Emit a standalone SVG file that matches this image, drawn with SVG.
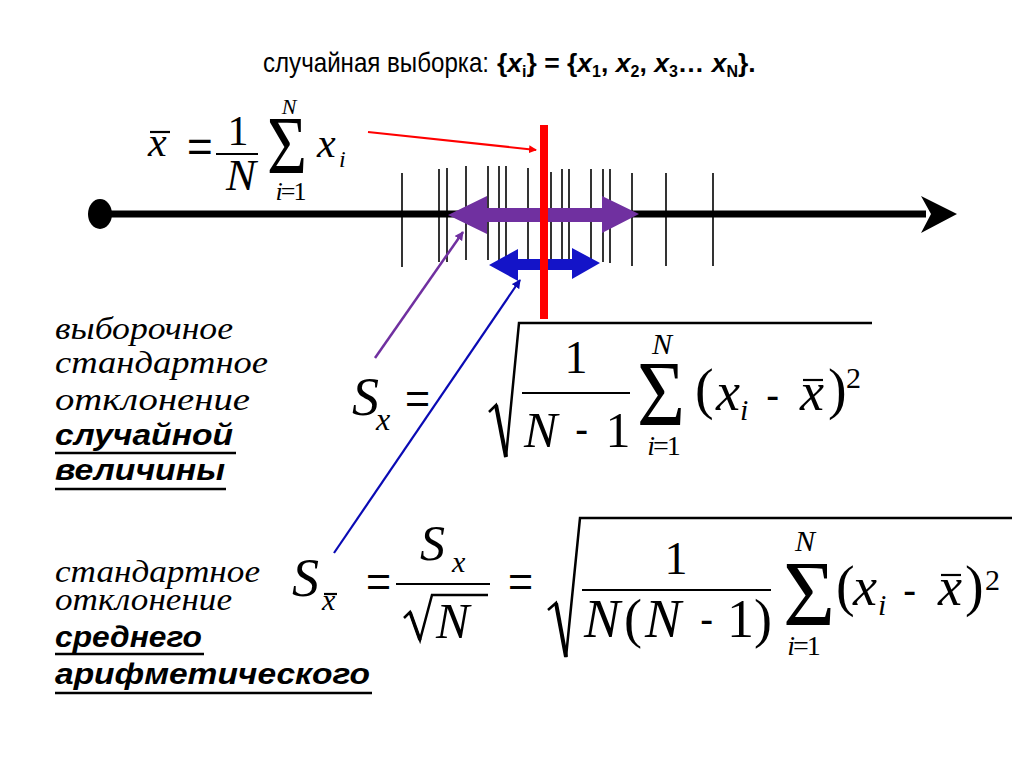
<svg xmlns="http://www.w3.org/2000/svg" width="1024" height="768" viewBox="0 0 1024 768">
<style>
.sans{font-family:"Liberation Sans",Arial,sans-serif;fill:#000}
.ser{font-family:"Liberation Serif","Times New Roman",serif;fill:#000}
.it{font-style:italic}
.lbl{font-family:"Liberation Serif","Times New Roman",serif;font-style:italic;font-size:32px;fill:#000}
.lblb{font-family:"Liberation Sans",Arial,sans-serif;font-style:italic;font-weight:bold;font-size:29px;fill:#000}
.ul{stroke:#000;stroke-width:2.5}
.tick{stroke:#000;stroke-width:1.6}
.rad{fill:none;stroke:#000;stroke-width:2.5;stroke-linejoin:miter}
.bar{stroke:#000;stroke-width:2.2}
</style>
<defs>
<marker id="ahR" markerWidth="8" markerHeight="8" refX="7" refY="4" orient="auto" markerUnits="userSpaceOnUse"><path d="M0,0 L8,4 L0,8 Z" fill="#ff0000"/></marker>
<marker id="ahP" markerWidth="9" markerHeight="9" refX="8" refY="4.5" orient="auto" markerUnits="userSpaceOnUse"><path d="M0,0 L9,4.5 L0,9 Z" fill="#7030a0"/></marker>
<marker id="ahB" markerWidth="9" markerHeight="9" refX="8" refY="4.5" orient="auto" markerUnits="userSpaceOnUse"><path d="M0,0 L9,4.5 L0,9 Z" fill="#0a0ab4"/></marker>
</defs>
<rect width="1024" height="768" fill="#fff"/>

<g id="title">
<text class="sans" x="263" y="72" font-size="28" textLength="226" lengthAdjust="spacingAndGlyphs">случайная выборка:</text>
<text class="sans" x="497" y="72" font-size="26.5" font-weight="bold">{<tspan font-style="italic">x</tspan><tspan font-size="16" dy="5">i</tspan><tspan dy="-5">} = {</tspan><tspan font-style="italic">x</tspan><tspan font-size="16" dy="5">1</tspan><tspan dy="-5">, </tspan><tspan font-style="italic">x</tspan><tspan font-size="16" dy="5">2</tspan><tspan dy="-5">, </tspan><tspan font-style="italic">x</tspan><tspan font-size="16" dy="5">3</tspan><tspan dy="-5">… </tspan><tspan font-style="italic">x</tspan><tspan font-size="16" dy="5">N</tspan><tspan dy="-5">}.</tspan></text>
</g>

<g id="axis">
<line x1="100" y1="214" x2="926" y2="214" stroke="#000" stroke-width="7"/>
<ellipse cx="100" cy="214" rx="12" ry="15" fill="#000"/>
<path d="M921,196 L957,214 L921,233 L931,214 Z" fill="#000"/>
</g>

<g id="ticks">
<line class="tick" x1="402" y1="173" x2="402" y2="267"/>
<line class="tick" x1="439" y1="169" x2="439" y2="262"/>
<line class="tick" x1="447" y1="168" x2="447" y2="262"/>
<line class="tick" x1="466" y1="166" x2="466" y2="260"/>
<line class="tick" x1="488" y1="166" x2="488" y2="260"/>
<line class="tick" x1="499" y1="166" x2="499" y2="260"/>
<line class="tick" x1="506" y1="166" x2="506" y2="260"/>
<line class="tick" x1="528" y1="168" x2="528" y2="262"/>
<line class="tick" x1="551" y1="172" x2="551" y2="267"/>
<line class="tick" x1="562" y1="169" x2="562" y2="262"/>
<line class="tick" x1="569" y1="169" x2="569" y2="262"/>
<line class="tick" x1="591" y1="169" x2="591" y2="260"/>
<line class="tick" x1="603" y1="169" x2="603" y2="262"/>
<line class="tick" x1="610" y1="169" x2="610" y2="263"/>
<line class="tick" x1="632" y1="173" x2="632" y2="266"/>
<line class="tick" x1="666" y1="173" x2="666" y2="266"/>
<line class="tick" x1="713" y1="173" x2="713" y2="266"/>
</g>

<g id="spread-arrows">
<polygon points="448,215 487,196 487,208 602,208 602,196 639,214 602,233 602,222 487,222 487,234" fill="#7030a0"/>
<polygon points="489,265 518,249 518,259 572,259 572,248 600,263 572,279 572,270 518,270 518,281" fill="#1414c8"/>
</g>

<g id="mean-line">
<rect x="540" y="125" width="8" height="194" fill="#ff0000"/>
</g>

<g id="connectors">
<line x1="368" y1="132" x2="536" y2="150" stroke="#ff0000" stroke-width="2.2" marker-end="url(#ahR)"/>
<line x1="375" y1="358" x2="463" y2="232" stroke="#7030a0" stroke-width="2.5" marker-end="url(#ahP)"/>
<line x1="334" y1="553" x2="520" y2="280" stroke="#0a0ab4" stroke-width="2.2" marker-end="url(#ahB)"/>
</g>

<g id="formula-mean">
<text class="ser it" x="148" y="156" font-size="42">x</text>
<line class="bar" x1="150" y1="132" x2="170" y2="132"/>
<text class="sans" x="187" y="162" font-size="44">=</text>
<text class="ser" x="238" y="145" font-size="42" text-anchor="middle">1</text>
<line class="bar" x1="216" y1="154" x2="258" y2="154"/>
<text class="ser it" x="241" y="190" font-size="45" text-anchor="middle">N</text>
<text class="ser" x="267" y="173" font-size="83" textLength="40" lengthAdjust="spacingAndGlyphs">Σ</text>
<text class="ser it" x="289" y="114" font-size="22" text-anchor="middle">N</text>
<text class="ser" x="290" y="200" font-size="26" text-anchor="middle" letter-spacing="-2"><tspan font-style="italic">i</tspan>=1</text>
<text class="ser it" x="317" y="157" font-size="42">x</text>
<text class="ser it" x="339" y="167" font-size="24">i</text>
</g>

<g id="formula-sx">
<text class="ser it" x="352" y="415" font-size="54">S</text>
<text class="ser it" x="376" y="430" font-size="32">x</text>
<text class="sans" x="405" y="413" font-size="43">=</text>
<path class="rad" d="M489,412 L496,405 L506,457 L519,323 L872,323"/>
<line x1="496" y1="405" x2="506" y2="457" stroke="#000" stroke-width="4"/>
<text class="ser" x="576" y="373" font-size="46" text-anchor="middle">1</text>
<line class="bar" x1="522" y1="393" x2="630" y2="393"/>
<text class="ser it" x="524" y="447" font-size="50">N</text>
<text class="sans" x="575" y="443" font-size="40">-</text>
<text class="ser" x="618" y="447" font-size="50" text-anchor="middle">1</text>
<text class="ser" x="637" y="425" font-size="94" textLength="48" lengthAdjust="spacingAndGlyphs">Σ</text>
<text class="ser it" x="662" y="354" font-size="30" text-anchor="middle">N</text>
<text class="ser" x="663" y="455" font-size="28" text-anchor="middle" letter-spacing="-2"><tspan font-style="italic">i</tspan>=1</text>
<text class="ser" x="695" y="408" font-size="56">(</text>
<text class="ser it" x="716" y="410" font-size="54">x</text>
<text class="ser it" x="740" y="420" font-size="30">i</text>
<text class="sans" x="766" y="409" font-size="40">-</text>
<text class="ser it" x="800" y="410" font-size="54">x</text>
<line class="bar" x1="803" y1="380" x2="823" y2="380"/>
<text class="ser" x="828" y="408" font-size="56">)</text>
<text class="ser" x="846" y="388" font-size="30">2</text>
</g>

<g id="formula-sxbar">
<text class="ser it" x="292" y="596" font-size="54">S</text>
<text class="ser it" x="322" y="610" font-size="30">x</text>
<line class="bar" x1="324" y1="594" x2="337" y2="594"/>
<text class="sans" x="366" y="596" font-size="43">=</text>
<text class="ser it" x="420" y="560" font-size="50">S</text>
<text class="ser it" x="452" y="572" font-size="30">x</text>
<line class="bar" x1="396" y1="584" x2="490" y2="584"/>
<path class="rad" d="M404,618 L410,612 L420,640 L432,595 L488,595"/>
<line x1="410" y1="612" x2="420" y2="640" stroke="#000" stroke-width="3.5"/>
<text class="ser it" x="436" y="638" font-size="50">N</text>
<text class="sans" x="508" y="596" font-size="43">=</text>
<path class="rad" d="M548,610 L556,603 L566,657 L580,518 L1012,518"/>
<line x1="556" y1="603" x2="566" y2="657" stroke="#000" stroke-width="4"/>
<text class="ser" x="676" y="574" font-size="46" text-anchor="middle">1</text>
<line class="bar" x1="582" y1="590" x2="771" y2="590"/>
<text class="ser it" x="584" y="637" font-size="54">N</text>
<text class="ser" x="624" y="637" font-size="54">(</text>
<text class="ser it" x="645" y="637" font-size="54">N</text>
<text class="sans" x="700" y="633" font-size="40">-</text>
<text class="ser" x="727" y="637" font-size="54">1</text>
<text class="ser" x="754" y="637" font-size="54">)</text>
<text class="ser" x="783" y="625" font-size="94" textLength="52" lengthAdjust="spacingAndGlyphs">Σ</text>
<text class="ser it" x="805" y="551" font-size="30" text-anchor="middle">N</text>
<text class="ser" x="803" y="655" font-size="28" text-anchor="middle" letter-spacing="-2"><tspan font-style="italic">i</tspan>=1</text>
<text class="ser" x="836" y="605" font-size="56">(</text>
<text class="ser it" x="853" y="605" font-size="54">x</text>
<text class="ser it" x="878" y="615" font-size="30">i</text>
<text class="sans" x="903" y="604" font-size="40">-</text>
<text class="ser it" x="938" y="605" font-size="54">x</text>
<line class="bar" x1="941" y1="575" x2="961" y2="575"/>
<text class="ser" x="965" y="605" font-size="56">)</text>
<text class="ser" x="985" y="590" font-size="30">2</text>
</g>

<g id="label-sample-sd">
<text class="lbl" x="55" y="339" textLength="178" lengthAdjust="spacingAndGlyphs">выборочное</text>
<text class="lbl" x="55" y="373" textLength="213" lengthAdjust="spacingAndGlyphs">стандартное</text>
<text class="lbl" x="55" y="410" textLength="195" lengthAdjust="spacingAndGlyphs">отклонение</text>
<text class="lblb" x="55" y="445" textLength="178" lengthAdjust="spacingAndGlyphs">случайной</text>
<line class="ul" x1="55" y1="453" x2="236" y2="453"/>
<text class="lblb" x="55" y="480" textLength="170" lengthAdjust="spacingAndGlyphs">величины</text>
<line class="ul" x1="55" y1="489" x2="226" y2="489"/>
</g>

<g id="label-mean-sd">
<text class="lbl" x="55" y="582" textLength="205" lengthAdjust="spacingAndGlyphs">стандартное</text>
<text class="lbl" x="55" y="610" textLength="177" lengthAdjust="spacingAndGlyphs">отклонение</text>
<text class="lblb" x="55" y="647" textLength="147" lengthAdjust="spacingAndGlyphs">среднего</text>
<line class="ul" x1="55" y1="654" x2="204" y2="654"/>
<text class="lblb" x="55" y="684" textLength="315" lengthAdjust="spacingAndGlyphs">арифметического</text>
<line class="ul" x1="55" y1="693" x2="372" y2="693"/>
</g>
</svg>
